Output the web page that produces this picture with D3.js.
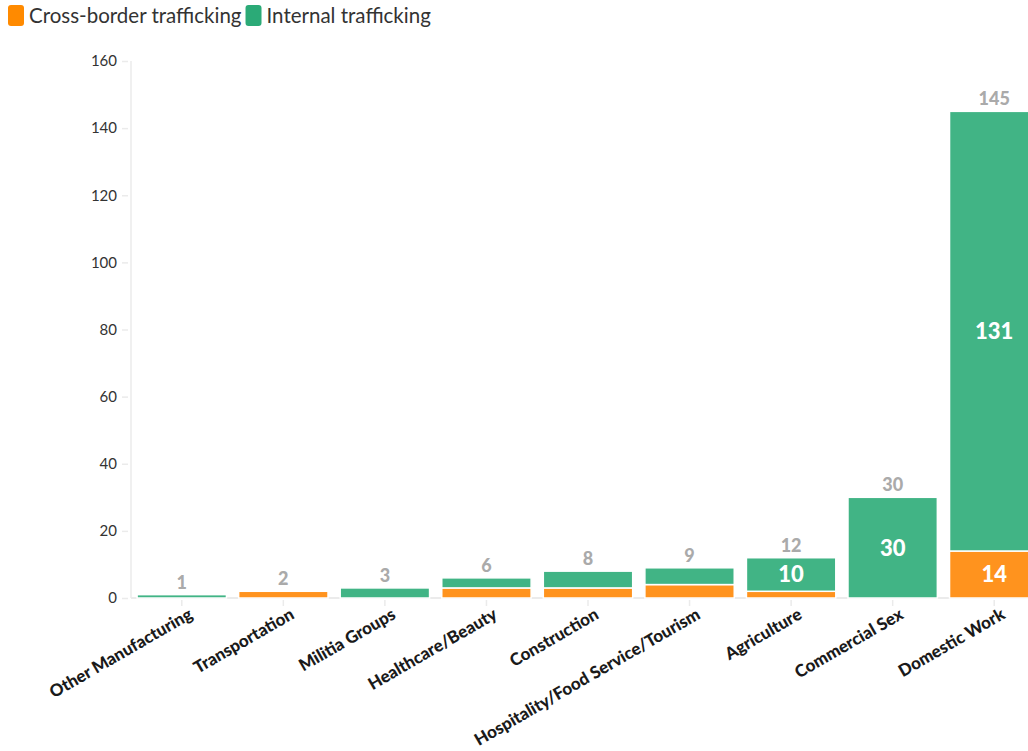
<!DOCTYPE html>
<html><head><meta charset="utf-8">
<script src="https://cdn.jsdelivr.net/npm/d3@7"></script>
<style>
body{margin:0;background:#fff;overflow:hidden}
svg{display:block;font-family:Lato,"Open Sans",sans-serif}
</style></head>
<body>
<svg id="c" width="1028" height="751"></svg>
<script>
const categories = ["Other Manufacturing","Transportation","Militia Groups","Healthcare/Beauty","Construction","Hospitality/Food Service/Tourism","Agriculture","Commercial Sex","Domestic Work"];
const crossBorder = [0,2,0,3,3,4,2,0,14];
const internal = [1,0,3,3,5,5,10,30,131];
const seriesNames = ["Cross-border trafficking","Internal trafficking"];
const seriesColors = ["#FF931E","#41B485"];
const yTicks = [0,20,40,60,80,100,120,140,160];

const svg = d3.select("#c");
const x = d3.scaleBand().domain(categories).range([131,1045]).paddingInner(0.12).paddingOuter(0.06);
const y = d3.scaleLinear().domain([0,160]).range([598,61]);

const data = categories.map((c,i)=>({cat:c, cross:crossBorder[i], internal:internal[i]}));
const stack = d3.stack().keys(["cross","internal"])(data);

// y axis
const ya = svg.append("g").attr("transform","translate(131,0)")
  .call(d3.axisLeft(y).tickValues(yTicks).tickSize(8).tickPadding(6));
ya.select(".domain").attr("stroke","#ebebeb").attr("stroke-width",1.5).attr("d","M0,61V598");
ya.selectAll(".tick line").attr("stroke","#ebebeb").attr("stroke-width",1.5).attr("x1",-9).attr("x2",-3);
ya.selectAll("text").attr("font-size",15).attr("fill","#333").attr("font-family","Lato,sans-serif");

// x axis
const xa = svg.append("g").attr("transform","translate(0,598)")
  .call(d3.axisBottom(x).tickSize(8).tickPadding(10));
xa.select(".domain").attr("stroke","#ebebeb").attr("stroke-width",2).attr("d","M131,0H1045");
xa.selectAll(".tick line").attr("stroke","#ebebeb").attr("stroke-width",1.5).attr("y1",2).attr("y2",8);
xa.selectAll("text").attr("font-size",17).attr("font-weight",900).attr("fill","#1a1a1a")
  .attr("font-family","Lato,sans-serif")
  .attr("text-anchor","end").attr("transform","translate(0,-1) rotate(-30)").attr("dy","0.35em");

// bars
const g = svg.append("g");
stack.forEach((s,si)=>{
  g.selectAll(null).data(s).enter().append("rect")
    .filter(d=>d[1]-d[0]>0)
    .attr("x",d=>x(d.data.cat)).attr("width",x.bandwidth())
    .attr("y",d=>y(d[1])).attr("height",d=>y(d[0])-y(d[1]))
    .attr("fill",seriesColors[si]).attr("stroke","#fff").attr("stroke-width",1.5);
  g.selectAll(null).data(s).enter()
    .filter(d=>y(d[0])-y(d[1])>25)
    .append("text")
    .attr("x",d=>x(d.data.cat)+x.bandwidth()/2).attr("y",d=>(y(d[0])+y(d[1]))/2)
    .attr("dy","0.36em").attr("text-anchor","middle")
    .attr("font-size",22).attr("font-weight",900).attr("fill","#fff")
    .text(d=>d[1]-d[0]);
});
// totals
g.selectAll(null).data(data).enter().append("text")
  .attr("x",d=>x(d.cat)+x.bandwidth()/2).attr("y",d=>y(d.cross+d.internal)-6)
  .attr("text-anchor","middle").attr("font-size",18).attr("font-weight",900).attr("fill","#aaaaaa")
  .text(d=>d.cross+d.internal);

// legend
const lg = svg.append("g");
let lx = 8;
seriesNames.forEach((n,i)=>{
  lg.append("rect").attr("x",lx).attr("y",5).attr("width",16).attr("height",21).attr("rx",3).attr("fill",i?"#2BAA77":"#FF8A00");
  const t = lg.append("text").attr("x",lx+21).attr("y",23).attr("font-size",20.5).attr("fill","#333").text(n);
  lx += 21 + t.node().getComputedTextLength() + 4;
});
</script>
</body></html>
